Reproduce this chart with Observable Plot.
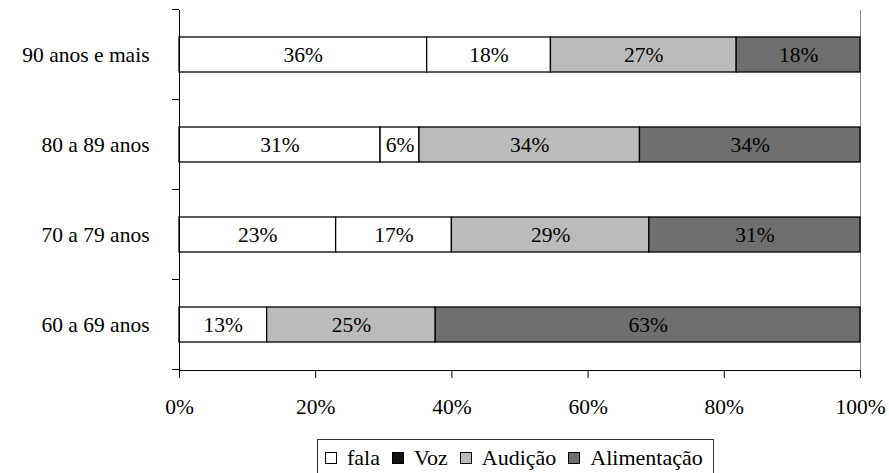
<!DOCTYPE html>
<html>
<head>
<meta charset="utf-8">
<script src="https://cdn.jsdelivr.net/npm/d3@7"></script>
<script src="https://cdn.jsdelivr.net/npm/@observablehq/plot@0.6"></script>
<style>
  html, body { margin: 0; padding: 0; background: #fff; }
  body { font-family: "Liberation Serif", "Times New Roman", serif; color: #000; }
  #legend {
    display: inline-flex;
    align-items: center;
    margin: 7px 0 0 317px;
    padding: 5px 10px 6px 7px;
    border: 1px solid #333;
    font-size: 22px;
    line-height: 26px;
    white-space: nowrap;
  }
  #legend .item { display: inline-flex; align-items: center; margin-right: 12px; }
  #legend .item:last-child { margin-right: 0; }
  #legend .swatch {
    width: 10px; height: 10px;
    border: 1px solid #000;
    margin-right: 10px;
    box-sizing: content-box;
  }
</style>
</head>
<body>
<div id="chart"></div>
<script>
// Age groups, top to bottom
const ageGroups = ["90 anos e mais", "80 a 89 anos", "70 a 79 anos", "60 a 69 anos"];
// Series (stack order, left to right)
const seriesNames = ["fala", "Voz", "Audição", "Alimentação"];
// Percentages per age group, one array per series
const fala = [36, 31, 23, 13];
const voz = [18, 6, 17, 0];
const audicao = [27, 34, 29, 25];
const alimentacao = [18, 34, 31, 63];
// Axis ticks
const xTicks = [0, 0.2, 0.4, 0.6, 0.8, 1];

// Fills
const barFills = ["#ffffff", "#ffffff", "#bbbbbb", "#6f6f6f"];
const legendFills = ["#ffffff", "#111111", "#bbbbbb", "#6f6f6f"];

const seriesValues = [fala, voz, audicao, alimentacao];
const rows = ageGroups.flatMap((group, i) =>
  seriesNames.map((series, j) => ({group, series, value: seriesValues[j][i]}))
).filter(d => d.value > 0);

// Short ticks on the left axis at the boundaries between the bands
function bandTicks(index, scales, values, dimensions) {
  const y = scales.y;
  const inner = dimensions.height - dimensions.marginTop - dimensions.marginBottom;
  const step = typeof y.step === "function" ? y.step() : inner / ageGroups.length;
  const bw = typeof y.bandwidth === "function" ? y.bandwidth() : (y.bandwidth ?? 0);
  const ys = ageGroups.map(g => y(g) + bw / 2 - step / 2);
  ys.push(y(ageGroups[ageGroups.length - 1]) + bw / 2 + step / 2);
  const g = d3.create("svg:g").attr("stroke", "#000").attr("stroke-width", 1);
  g.selectAll("line").data(ys).join("line")
    .attr("x1", dimensions.marginLeft - 7)
    .attr("x2", dimensions.marginLeft)
    .attr("y1", d => d)
    .attr("y2", d => d);
  return g.node();
}

const chart = Plot.plot({
  width: 889,
  height: 432,
  marginLeft: 179,
  marginRight: 29,
  marginTop: 10,
  marginBottom: 62,
  style: {fontFamily: "'Liberation Serif', 'Times New Roman', serif", fontSize: "21px", color: "#000", background: "#fff"},
  x: {domain: [0, 1], label: null},
  y: {domain: ageGroups, paddingInner: 0.61, paddingOuter: 0.305, label: null},
  color: {domain: seriesNames, range: barFills},
  marks: [
    Plot.frame({anchor: "right", stroke: "#8c8c8c"}),
    Plot.barX(rows, Plot.stackX({
      x: "value", y: "group", fill: "series", offset: "normalize",
      stroke: "#000", strokeWidth: 1.3
    })),
    Plot.text(rows, Plot.stackX({
      x: "value", y: "group", offset: "normalize",
      text: d => `${d.value}%`, fill: "#000", fontSize: 21.5
    })),
    Plot.frame({anchor: "left", stroke: "#000"}),
    Plot.frame({anchor: "bottom", stroke: "#000"}),
    bandTicks,
    Plot.axisY({tickSize: 0, tickPadding: 30, label: null, fontSize: 21.5}),
    Plot.axisX({ticks: xTicks, tickFormat: d3.format(".0%"), tickSize: 8, tickPadding: 20, label: null, stroke: "#000", fontSize: 21.5})
  ]
});
document.getElementById("chart").append(chart);

// Legend box below the chart
const legend = d3.select("body").append("div").attr("id", "legend");
seriesNames.forEach((name, i) => {
  const item = legend.append("span").attr("class", "item");
  item.append("span").attr("class", "swatch").style("background", legendFills[i]);
  item.append("span").text(name);
});
</script>
</body>
</html>
